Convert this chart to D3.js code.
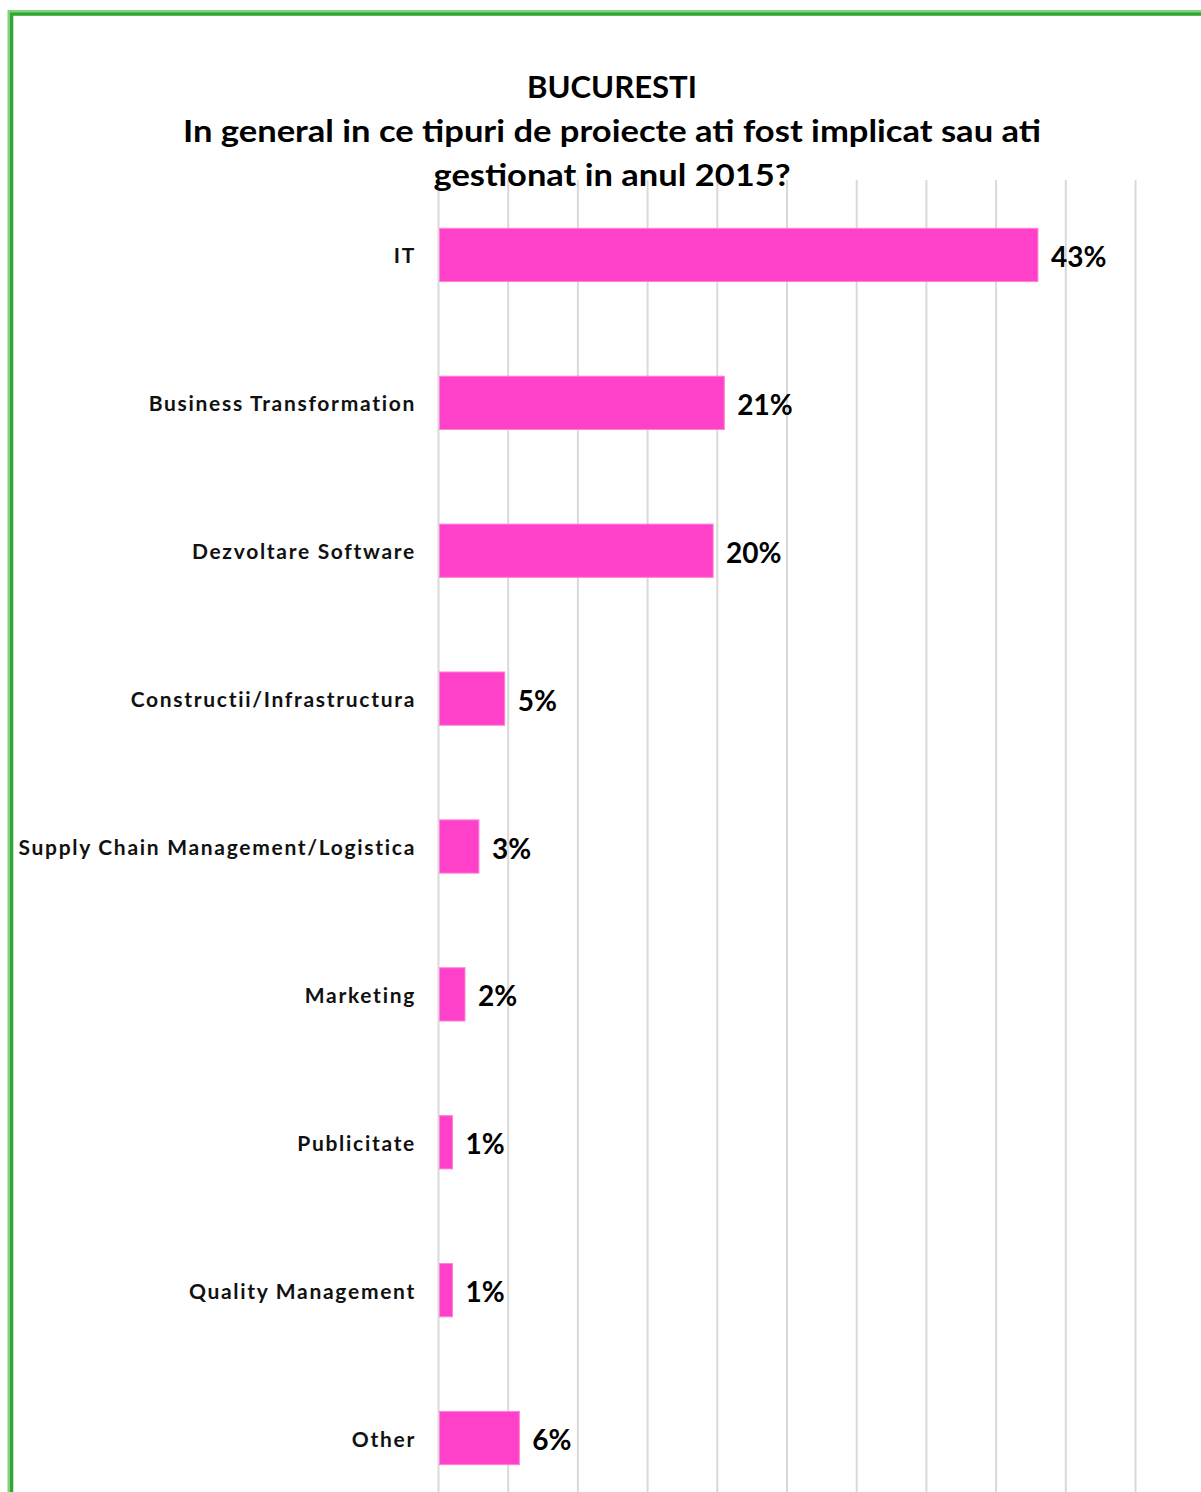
<!DOCTYPE html>
<html><head><meta charset="utf-8">
<script src="https://cdn.jsdelivr.net/npm/d3@7"></script>
<style>body{margin:0;background:#fff}svg{display:block}</style>
</head><body>
<svg id="chart" width="1201" height="1492"></svg>
<script>
const titleLines = ["BUCURESTI", "In general in ce tipuri de proiecte ati fost implicat sau ati", "gestionat in anul 2015?"];
const categories = ["IT", "Business Transformation", "Dezvoltare Software", "Constructii/Infrastructura", "Supply Chain Management/Logistica", "Marketing", "Publicitate", "Quality Management", "Other"];
const values = [43, 20.5, 19.7, 4.75, 2.9, 1.9, 1.0, 1.0, 5.8];
const gridTicks = [0, 5, 10, 15, 20, 25, 30, 35, 40, 45, 50];

const svg = d3.select("#chart");
const W = 1201, H = 1492;
svg.append("rect").attr("width", W).attr("height", H).attr("fill", "#fff");

const x = d3.scaleLinear().domain([0, 50]).range([438.5, 1135.5]);
const y = d3.scaleBand().domain(categories).range([181, 1512]).paddingInner(0.64).paddingOuter(0.32);

// gridlines
svg.append("g").selectAll("line").data(gridTicks).join("line")
  .attr("x1", d => x(d)).attr("x2", d => x(d))
  .attr("y1", 180).attr("y2", H)
  .attr("stroke", "#d9d9d9").attr("stroke-width", 2);

// bars
svg.append("g").selectAll("rect").data(values).join("rect")
  .attr("x", x(0) + 1)
  .attr("y", (d, i) => y(categories[i]))
  .attr("width", d => x(d) - x(0) - 1)
  .attr("height", y.bandwidth())
  .attr("fill", "#FF40C8")
  .attr("stroke", "#ff7fd9").attr("stroke-width", 1);

// value labels
const fmt = d => Math.round(d) + "%";
svg.append("g").selectAll("text").data(values).join("text")
  .attr("x", d => x(d) + 13)
  .attr("y", (d, i) => y(categories[i]) + y.bandwidth() / 2 + 1)
  .attr("dominant-baseline", "central")
  .attr("font-family", "Lato, 'Open Sans', sans-serif")
  .attr("font-weight", "bold").attr("font-size", 28)
  .attr("fill", "#000")
  .text(fmt);

// category labels
svg.append("g").selectAll("text").data(categories).join("text")
  .attr("x", 416)
  .attr("y", d => y(d) + y.bandwidth() / 2)
  .attr("text-anchor", "end")
  .attr("dominant-baseline", "central")
  .attr("font-family", "Lato, 'Open Sans', sans-serif")
  .attr("font-weight", "bold").attr("font-size", 21)
  .attr("letter-spacing", 1.7)
  .attr("fill", "#111")
  .text(d => d);

// title
const titleY = [98, 142, 186];
const titleW = [170, 858, 357];
svg.append("g").selectAll("text").data(titleLines).join("text")
  .attr("x", 612)
  .attr("y", (d, i) => titleY[i])
  .attr("text-anchor", "middle")
  .attr("font-family", "Lato, 'Open Sans', sans-serif")
  .attr("font-weight", "bold").attr("font-size", 31)
  .attr("textLength", (d, i) => titleW[i])
  .attr("lengthAdjust", "spacingAndGlyphs")
  .attr("fill", "#000")
  .text(d => d);

// green frame (top and left edges)
const frame = svg.append("g");
frame.append("path").attr("d", `M10.5,${H} L10.5,13 L${W},13`)
  .attr("fill", "none").attr("stroke", "#7fd27f").attr("stroke-width", 6);
frame.append("path").attr("d", `M11.5,${H} L11.5,14 L${W},14`)
  .attr("fill", "none").attr("stroke", "#34a534").attr("stroke-width", 3);
</script>
</body></html>
